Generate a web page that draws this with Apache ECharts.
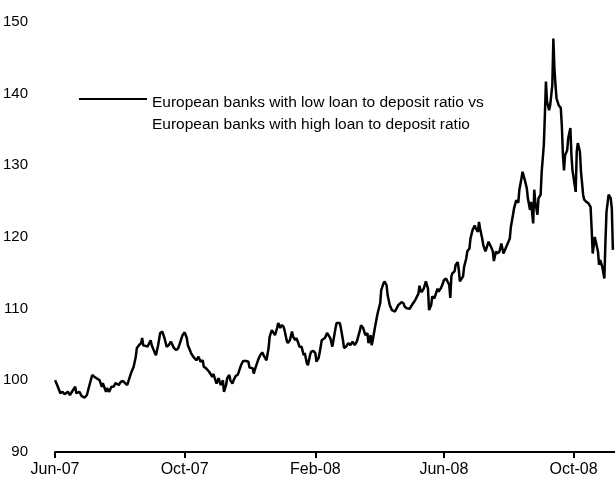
<!DOCTYPE html>
<html>
<head>
<meta charset="utf-8">
<title>Loan to deposit ratio</title>
<script src="https://cdn.jsdelivr.net/npm/echarts@6/dist/echarts.min.js"></script>
<style>
  *{margin:0px; padding:0px;}
  body{background:#fff;}
  #main{width:615px; height:489px;}
</style>
</head>
<body>
<div id="main"></div>
<script type="text/javascript">
// days counted from 1 Jun 2007
var dayOffsets = [
  0,2,5,7,9,12,14,17,19,20,23,25,28,30,32,35,37,39,42,44,45,48,49,51,53,55,57,60,62,64,66,68,70,72,74,76,77,79,81,82,83,85,
  87,90,91,94,95,97,99,101,103,105,107,109,112,114,116,118,120,122,124,125,127,128,130,131,133,135,137,139,140,142,143,145,146,148,149,151,152,154,155,156,158,159,161,162,164,165,167,168,170,
  172,173,175,177,180,182,183,186,187,189,191,193,195,197,199,201,202,204,205,207,209,210,212,213,215,216,218,219,221,223,224,226,227,229,230,232,234,235,237,238,240,241,243,245,246,248,249,251,252,254,256,257,259,
  261,262,264,265,268,269,271,272,274,276,278,280,282,284,287,288,290,292,294,295,297,298,299,301,303,304,306,307,309,310,312,313,315,317,318,320,321,323,324,326,328,329,331,332,334,335,337,339,340,342,343,344,345,347,
  349,351,352,354,355,357,358,360,361,363,365,366,368,369,371,372,373,374,376,377,379,380,381,382,384,385,387,388,390,391,393,395,396,398,399,400,402,403,405,406,408,409,411,412,413,415,416,418,419,420,422,423,424,426,428,429,431,432,434,
  436,437,439,440,442,444,445,447,448,450,451,452,454,455,457,458,460,461,462,463,465,466,468,469,470,471,472,474,476,477,478,479,480,482,483,485,486,487,488,490,491,492,494,495,497,498,500,502,504,505,506,508,509,511,512,513,515,517,518,519,521,523,524,525
];
var ratioValues = [
  100.0,99.35,98.2,98.4,98.05,98.4,97.95,98.65,99.1,98.2,98.4,97.8,97.6,97.95,99.1,100.75,100.5,100.3,100.0,99.1,99.6,98.4,98.9,98.4,99.1,99.1,99.6,99.35,99.8,99.9,99.6,99.35,100.3,101.2,101.9,103.3,104.5,104.9,105.2,105.9,104.9,104.8,
  104.7,105.6,104.9,103.8,103.5,104.9,106.6,106.8,105.9,104.7,104.9,105.4,104.5,104.2,104.5,105.4,106.3,106.7,105.9,104.9,104.2,103.8,103.3,103.5,102.8,103.3,102.6,102.8,101.9,101.7,101.9,101.2,101.4,100.5,100.9,100.0,99.55,100.3,99.8,99.35,100.0,98.4,99.35,100.3,100.75,100.0,99.55,100.0,100.6,
  100.8,101.2,102.1,102.7,102.7,102.6,101.8,101.7,100.95,101.9,102.8,103.5,103.9,103.3,102.8,104.5,106.1,107.0,106.8,106.3,107.3,108.0,107.3,107.7,107.5,107.0,105.6,105.2,105.6,106.8,106.1,105.6,105.9,105.2,104.7,104.7,103.5,103.8,102.4,102.1,103.5,104.0,104.1,103.8,102.6,103.1,103.8,105.6,105.4,105.9,106.6,106.8,105.9,
  104.7,104.9,107.3,108.0,108.0,107.3,105.6,104.5,104.7,105.2,104.9,105.4,104.9,105.4,107.0,107.7,107.3,106.3,106.6,105.2,106.3,104.9,105.6,107.3,108.9,109.6,110.75,112.6,113.5,113.8,113.3,111.9,110.5,109.8,110.05,109.6,109.8,110.5,110.3,110.9,110.75,110.3,110.05,110.1,110.0,110.3,110.75,111.2,111.45,112.1,113.2,112.6,112.3,112.8,
  113.8,112.8,109.8,110.5,111.7,111.45,111.9,112.8,112.4,112.8,113.5,114.0,114.2,114.0,113.3,111.5,114.5,114.95,115.2,116.1,116.5,115.4,113.8,114.0,114.5,115.85,117.0,118.0,118.4,119.8,121.0,121.6,121.2,120.7,122.1,121.2,119.8,118.9,118.0,118.4,119.35,119.1,118.4,118.0,116.65,118.0,117.7,117.9,118.4,119.1,117.7,117.7,118.4,119.1,119.8,121.4,123.1,124.0,125.1,
  124.8,126.6,128.2,129.1,128.0,126.8,125.4,123.8,124.9,121.9,126.6,124.9,123.1,125.4,125.9,129.1,132.8,137.0,141.7,138.9,137.7,138.4,141.2,147.7,143.5,141.2,139.3,138.4,138.0,135.4,131.4,129.3,131.4,132.1,133.8,135.2,131.4,129.3,129.1,126.3,131.9,133.1,131.9,129.1,125.9,125.2,124.9,124.7,124.2,121.2,117.7,120.0,120.0,117.95,116.1,116.8,115.85,114.2,119.35,123.5,125.9,125.4,124.0,118.2
];
var tickDays = [0, 122, 245, 366, 488];
var tickLabels = ['Jun-07', 'Oct-07', 'Feb-08', 'Jun-08', 'Oct-08'];
var seriesName = 'European banks with low loan to deposit ratio vs\nEuropean banks with high loan to deposit ratio';

var seriesData = dayOffsets.map(function (d, i) { return [d, ratioValues[i]]; });

var myChart = echarts.init(document.getElementById('main'));
var font = "'Liberation Sans', Arial, sans-serif";

var option = {
    backgroundColor: '#fff',
    animation: false,
    textStyle: { fontFamily: font },
    grid: { left: 55, right: 0, top: 22, bottom: 37 },
    legend: {
        left: 79,
        top: 69,
        padding: 0,
        icon: 'rect',
        itemWidth: 68,
        itemHeight: 2,
        itemGap: 0,
        data: [seriesName],
        // blank first line pushes the text down so the key line sits level with line one
        formatter: function (name) {
            return '{s| }\n{t|' + name.split('\n').join('}\n{t|') + '}';
        },
        textStyle: {
            color: '#000',
            fontFamily: font,
            rich: {
                s: { fontSize: 15.5, lineHeight: 30 },
                t: { fontSize: 15.5, lineHeight: 22, color: '#000', fontFamily: font }
            }
        }
    },
    xAxis: {
        type: 'value',
        min: 0,
        max: 527,
        splitLine: { show: false },
        axisLine: { lineStyle: { color: '#000', width: 2 } },
        axisTick: {
            customValues: tickDays,
            length: 6,
            lineStyle: { color: '#000', width: 2 }
        },
        axisLabel: {
            customValues: tickDays,
            color: '#000',
            fontSize: 16,
            fontFamily: font,
            margin: 10,
            formatter: function (v) {
                var k = tickDays.indexOf(v);
                return k >= 0 ? tickLabels[k] : '';
            }
        }
    },
    yAxis: {
        type: 'value',
        min: 90,
        max: 150,
        interval: 10,
        splitLine: { show: false },
        axisLine: { show: false },
        axisTick: { show: false },
        axisLabel: { color: '#000', fontSize: 15, fontFamily: font, margin: 27 }
    },
    series: [{
        name: seriesName,
        type: 'line',
        symbol: 'none',
        showSymbol: false,
        data: seriesData,
        lineStyle: { color: '#000', width: 2.5 },
        itemStyle: { color: '#000' }
    }]
};

myChart.setOption(option);
</script>
</body>
</html>
